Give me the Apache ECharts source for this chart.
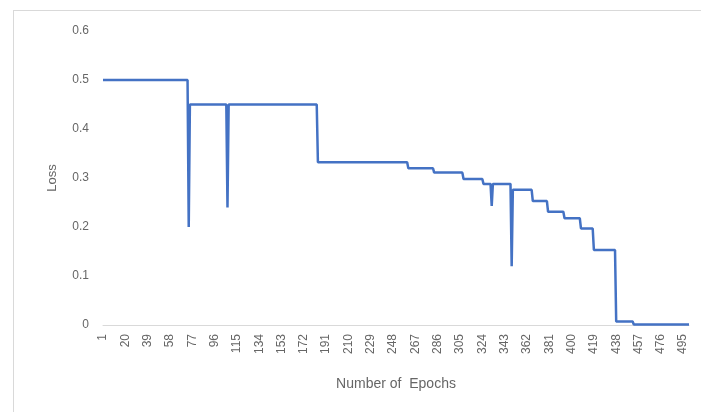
<!DOCTYPE html>
<html>
<head>
<meta charset="utf-8">
<script src="https://cdn.jsdelivr.net/npm/echarts@6/dist/echarts.min.js"></script>
<style>
  html, body { margin: 0; padding: 0; background: #fff; }
  #chart { width: 701px; height: 412px; }
</style>
</head>
<body>
<div id="chart"></div>
<script>
// epochs on the category axis
var epochs = []
for (var i = 1; i <= 500; i++) epochs.push(String(i))

// corner points of the loss curve
var keyEpochs = [1, 73, 74, 75, 106, 107, 108, 183, 184, 260, 261, 282, 283, 307, 308,
  324, 325, 331, 332, 333, 348, 349, 350, 366, 367, 379, 380, 393, 394, 407, 408,
  418, 419, 437, 438, 452, 453, 500]
var keyLoss = [0.5, 0.5, 0.2, 0.45, 0.45, 0.24, 0.45, 0.45, 0.332, 0.332, 0.32, 0.32, 0.311, 0.311, 0.298,
  0.298, 0.288, 0.288, 0.243, 0.288, 0.288, 0.12, 0.276, 0.276, 0.253, 0.253, 0.231, 0.231, 0.218, 0.218, 0.197,
  0.197, 0.153, 0.153, 0.007, 0.007, 0.001, 0.001]

var lossData = keyEpochs.map(function (e, k) { return [e - 1, keyLoss[k]] })

var myChart = echarts.init(document.getElementById('chart'))
var option = {
  backgroundColor: '#fff',
  animation: false,
  graphic: [
    { type: 'line', shape: { x1: 13, y1: 10.5, x2: 701, y2: 10.5 }, style: { stroke: '#d9d9d9', lineWidth: 1 } },
    { type: 'line', shape: { x1: 13.5, y1: 10, x2: 13.5, y2: 412 }, style: { stroke: '#d9d9d9', lineWidth: 1 } }
  ],
  grid: { left: 103, right: 12, top: 31, bottom: 87 },
  xAxis: {
    type: 'category',
    data: epochs,
    boundaryGap: false,
    name: 'Number of  Epochs',
    nameLocation: 'middle',
    nameGap: 52,
    nameTextStyle: { color: '#666', fontSize: 14, fontFamily: 'Liberation Sans' },
    axisLine: { lineStyle: { color: '#d9d9d9' } },
    axisTick: { show: false },
    axisLabel: {
      interval: 18,
      rotate: 90,
      color: '#666',
      fontSize: 12,
      margin: 9,
      fontFamily: 'Liberation Sans'
    },
    splitLine: { show: false }
  },
  yAxis: {
    type: 'value',
    min: 0,
    max: 0.6,
    interval: 0.1,
    name: 'Loss',
    nameLocation: 'middle',
    nameGap: 44,
    nameTextStyle: { color: '#666', fontSize: 13, fontFamily: 'Liberation Sans' },
    axisLine: { show: false },
    axisTick: { show: false },
    axisLabel: { color: '#666', fontSize: 12, margin: 14, fontFamily: 'Liberation Sans' },
    splitLine: { show: false }
  },
  series: [{
    name: 'Loss',
    type: 'line',
    data: lossData,
    showSymbol: false,
    lineStyle: { color: '#4472C4', width: 2.5 },
    itemStyle: { color: '#4472C4' }
  }]
}
myChart.setOption(option)
</script>
</body>
</html>
